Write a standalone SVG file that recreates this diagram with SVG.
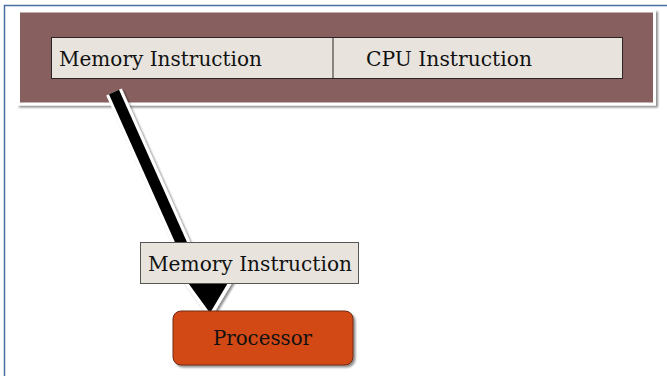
<svg xmlns="http://www.w3.org/2000/svg" width="667" height="376" viewBox="0 0 667 376">
  <defs>
    <filter id="shadow" x="-10%" y="-10%" width="120%" height="130%">
      <feGaussianBlur in="SourceAlpha" stdDeviation="1.2"/>
      <feOffset dx="1.5" dy="2" result="b"/>
      <feComponentTransfer><feFuncA type="linear" slope="0.45"/></feComponentTransfer>
      <feMerge><feMergeNode/><feMergeNode in="SourceGraphic"/></feMerge>
    </filter>
  </defs>
  <style>
    .lbl { font-family: "DejaVu Serif", "Liberation Serif", serif; font-size: 19.5px; fill: #111; }
    .cell { fill: #e8e4dd; stroke: #2b2424; stroke-width: 1; }
  </style>

  <rect width="667" height="376" fill="#ffffff"/>
  <!-- slide frame -->
  <path d="M4.5,376 V5.5 H667" fill="none" stroke="#4a6fa5" stroke-width="1.5"/>

  <!-- instruction panel -->
  <g id="panel">
    <rect x="18.5" y="11" width="636" height="93" fill="#885e5e" stroke="#ffffff" stroke-width="3" filter="url(#shadow)"/>
    <rect class="cell" x="51.5" y="37.5" width="571" height="41"/>
    <line x1="333" y1="37.5" x2="333" y2="78.5" stroke="#2b2424" stroke-width="1"/>
    <text class="lbl" x="59" y="66" textLength="203" lengthAdjust="spacingAndGlyphs">Memory Instruction</text>
    <text class="lbl" x="366" y="66" textLength="166" lengthAdjust="spacingAndGlyphs">CPU Instruction</text>
  </g>

  <!-- connector: memory instruction to processor -->
  <g id="connectors" filter="url(#shadow)">
    <line x1="114" y1="92" x2="201" y2="287" stroke="#ffffff" stroke-width="17" stroke-linecap="butt"/>
    <polygon points="210,313 186,280 229,281" fill="#ffffff" stroke="#ffffff" stroke-width="7" stroke-linejoin="miter"/>
    <line x1="114" y1="92" x2="201" y2="287" stroke="#000000" stroke-width="11" stroke-linecap="butt"/>
    <polygon points="210,313 186,280 229,281" fill="#000000"/>
  </g>

  <g id="label-memory">
    <rect x="140.5" y="242.5" width="218" height="41" fill="#e8e4dd" stroke="#555555" stroke-width="1"/>
    <text class="lbl" x="148" y="271" textLength="204" lengthAdjust="spacingAndGlyphs">Memory Instruction</text>
  </g>

  <g id="processor">
    <rect x="173" y="311" width="180" height="54" rx="8" ry="8" fill="#d24a18" stroke="#6e2a12" stroke-width="1" filter="url(#shadow)"/>
    <text class="lbl" x="213" y="345" textLength="99" lengthAdjust="spacingAndGlyphs">Processor</text>
  </g>
</svg>
